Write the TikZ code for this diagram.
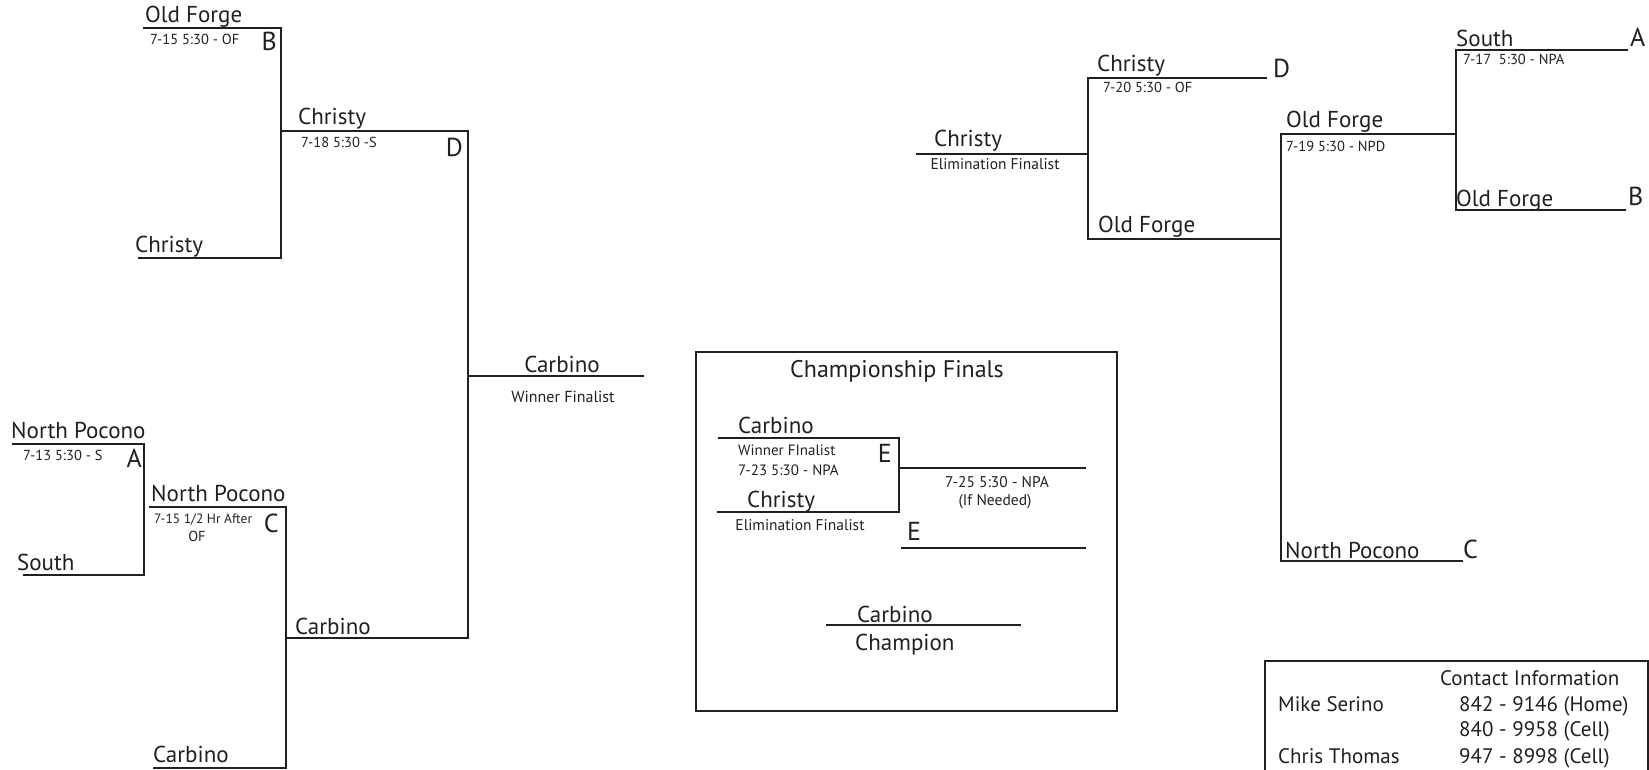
\documentclass[tikz,border=0pt]{standalone}
\usepackage{fontspec}
\setmainfont{PT Sans}
\usetikzlibrary{positioning}
\definecolor{ink}{RGB}{35,31,32}

\begin{document}
\begin{tikzpicture}[x=1pt,y=-1pt,color=ink,
  team/.style={anchor=base west,inner sep=0pt,font=\fontsize{23}{26}\selectfont},
  game/.style={anchor=base west,inner sep=0pt,font=\fontsize{14.5}{16}\selectfont},
  slot/.style={anchor=base east,inner sep=0pt,font=\fontsize{26}{28}\selectfont},
  note/.style={anchor=base,inner sep=0pt,font=\fontsize{15.5}{18}\selectfont},
  info/.style={anchor=base west,inner sep=0pt,font=\fontsize{21}{23}\selectfont},
  bracket/.style={line width=2.6pt}]
 \useasboundingbox (0,0) rectangle (1649,770);

 % winners side
 \coordinate (b1) at (143,28);  \coordinate (b2) at (281,28);
 \coordinate (b3) at (281,258); \coordinate (b4) at (138,258);
 \coordinate (a1) at (12,444);  \coordinate (a2) at (144,444);
 \coordinate (a3) at (144,575); \coordinate (a4) at (23,575);
 \coordinate (c1) at (149,507); \coordinate (c2) at (286,507);
 \coordinate (c3) at (286,768); \coordinate (c4) at (153,768);
 \coordinate (d1) at (281,131); \coordinate (d2) at (468,131);
 \coordinate (d3) at (468,638); \coordinate (d4) at (286,638);
 \coordinate (wf0) at (468,376); \coordinate (wf1) at (644,376);
 \draw [bracket] (b1) -- (b2) -- (b3) -- (b4);
 \draw [bracket] (a1) -- (a2) -- (a3) -- (a4);
 \draw [bracket] (c1) -- (c2) -- (c3) -- (c4);
 \draw [bracket] (d1) -- (d2) -- (d3) -- (d4);
 \draw [bracket] (wf0) -- (wf1);

 \node [team] (bt) at (145,23) {Old Forge};
 \node [game] (bg) at (150,45) {7-15 5:30 - OF};
 \node [slot] (bs) at (277,51) {B};
 \node [team] (bb) at (135,252) {Christy};
 \node [team] (at) at (11,438) {North Pocono};
 \node [game] (ag) at (23,460) {7-13 5:30 - S};
 \node [slot] (as) at (142,467) {A};
 \node [team] (ab) at (17,570) {South};
 \node [team] (ct) at (151,501) {North Pocono};
 \node [game,font=\fontsize{13.5}{15}\selectfont] (cg) at (154,523) {7-15 1/2 Hr After};
 \node [game,anchor=base] (cg2) at (197,541) {OF};
 \node [slot] (cs) at (279,532) {C};
 \node [team] (cb) at (153,762) {Carbino};
 \node [team] (dt) at (298,125) {Christy};
 \node [game] (dg) at (301,148) {7-18 5:30 -S};
 \node [slot] (ds) at (463,157) {D};
 \node [team] (db) at (295,634) {Carbino};
 \node [team,anchor=base] (wft) at (562,372) {Carbino};
 \node [note,font=\fontsize{16}{18}\selectfont] (wfn) at (563,402) {Winner Finalist};

 % championship finals
 \draw [bracket] (696,352) rectangle (1117,711);
 \coordinate (e1) at (718,438); \coordinate (e2) at (899,438);
 \coordinate (e3) at (899,512); \coordinate (e4) at (717,512);
 \coordinate (f1) at (899,468); \coordinate (f2) at (1086,468);
 \coordinate (g1) at (901,548); \coordinate (g2) at (1086,548);
 \coordinate (ch1) at (826,625); \coordinate (ch2) at (1021,625);
 \draw [bracket] (e1) -- (e2) -- (e3) -- (e4);
 \draw [bracket] (f1) -- (f2);
 \draw [bracket] (g1) -- (g2);
 \draw [bracket] (ch1) -- (ch2);

 \node [info,anchor=base,font=\fontsize{24}{26}\selectfont] (cf) at (897,377) {Championship Finals};
 \node [team] (et) at (738,433) {Carbino};
 \node [game,font=\fontsize{15}{16}\selectfont] (en) at (738,455) {Winner FInalist};
 \node [game,font=\fontsize{15}{16}\selectfont] (eg) at (738,475) {7-23 5:30 - NPA};
 \node [slot] (es) at (892,462) {E};
 \node [team] (eb) at (747,507) {Christy};
 \node [note] (ebn) at (800,530) {Elimination Finalist};
 \node [note] (fg) at (997,487) {7-25 5:30 - NPA};
 \node [note] (fn) at (995,505) {(If Needed)};
 \node [slot,anchor=base west] (gs) at (907,540) {E};
 \node [team] (cht) at (857,622) {Carbino};
 \node [team] (chn) at (855,650) {Champion};

 % elimination side
 \coordinate (ra1) at (1628,50);  \coordinate (ra2) at (1456,50);
 \coordinate (ra3) at (1456,210); \coordinate (ra4) at (1626,210);
 \coordinate (rn1) at (1456,134); \coordinate (rn2) at (1281,134);
 \coordinate (rn3) at (1281,561); \coordinate (rn4) at (1463,561);
 \coordinate (ro1) at (1281,239); \coordinate (ro2) at (1088,239);
 \coordinate (ro3) at (1088,78);  \coordinate (ro4) at (1267,78);
 \coordinate (ef0) at (1088,154); \coordinate (ef1) at (916,154);
 \draw [bracket] (ra1) -- (ra2) -- (ra3) -- (ra4);
 \draw [bracket] (rn1) -- (rn2) -- (rn3) -- (rn4);
 \draw [bracket] (ro1) -- (ro2) -- (ro3) -- (ro4);
 \draw [bracket] (ef0) -- (ef1);

 \node [team] (rat) at (1456,47) {South};
 \node [game] (rag) at (1463,65) {7-17 \ 5:30 - NPA};
 \node [slot,anchor=base west] (ras) at (1630,47) {A};
 \node [team] (rab) at (1456,207) {Old Forge};
 \node [slot,anchor=base west] (rbs) at (1628,206) {B};
 \node [team] (rnt) at (1286,128) {Old Forge};
 \node [game] (rng) at (1286,152) {7-19 5:30 - NPD};
 \node [team] (rnb) at (1285,558) {North Pocono};
 \node [slot,anchor=base west] (rcs) at (1463,558) {C};
 \node [team] (rot) at (1097,72) {Christy};
 \node [game] (rog) at (1103,93) {7-20 5:30 - OF};
 \node [slot,anchor=base west] (rds) at (1273,78) {D};
 \node [team] (rob) at (1098,233) {Old Forge};
 \node [team] (eft) at (934,147) {Christy};
 \node [note] (efn) at (995,170) {Elimination Finalist};

 % contacts
 \draw [line width=2pt] (1265,780) -- (1265,661) -- (1648,661) -- (1648,780);
 \node [info] (ci) at (1440,685) {Contact Information};
 \node [info] (m1) at (1278,711) {Mike Serino};
 \node [info] (m2) at (1459,711) {842 - 9146 (Home)};
 \node [info] (m3) at (1459,736) {840 - 9958 (Cell)};
 \node [info] (t1) at (1278,763) {Chris Thomas};
 \node [info] (t2) at (1459,763) {947 - 8998 (Cell)};
\end{tikzpicture}
\end{document}
